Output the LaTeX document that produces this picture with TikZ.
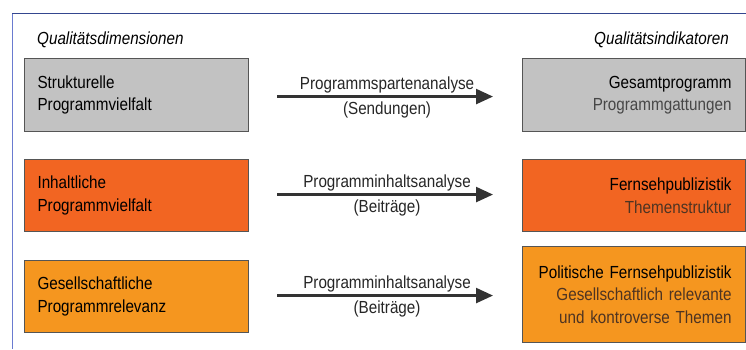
\documentclass[tikz,border=0pt]{standalone}
\usepackage{fontspec}
\setmainfont[FakeStretch=0.87]{Liberation Sans}
\usetikzlibrary{arrows.meta,positioning}
\definecolor{frametop}{HTML}{34468F}
\definecolor{frameleft}{HTML}{6A7BD0}
\definecolor{boxgrey}{HTML}{C2C2C2}
\definecolor{boxred}{HTML}{F26522}
\definecolor{boxorange}{HTML}{F5961F}
\definecolor{edge}{HTML}{555555}
\definecolor{arrowc}{HTML}{333333}
\definecolor{subgrey}{HTML}{474747}
\definecolor{subbrown}{HTML}{4E3422}
\tikzset{
  txt/.style={font=\fontsize{17.5}{22.5}\selectfont},
  leftbox/.style={txt, draw=edge, line width=1.1pt, anchor=north west,
    minimum width=224pt, text width=198pt, inner xsep=13pt, align=left},
  rightbox/.style={txt, draw=edge, line width=1.1pt, anchor=north west,
    minimum width=223pt, text width=195pt, inner xsep=14pt, align=right},
  flow/.style={draw=arrowc, line width=2.4pt,
    -{Triangle[length=17pt,width=15pt]}, shorten <=28pt, shorten >=29pt},
  lab/.style={txt, text=black!85, inner sep=0pt},
  head/.style={font=\fontsize{17.5}{22}\selectfont\itshape, inner sep=0pt}
}
\begin{document}
\begin{tikzpicture}[x=1pt,y=-1pt]
\useasboundingbox (0,0) rectangle (746,349);
\draw[frameleft, line width=1pt] (12,349) -- (12,13);
\draw[frametop, line width=1pt] (12,13) -- (746,13);

\node[head, anchor=base west] (hl) at (37,44) {Qualitätsdimensionen};
\node[head, anchor=base east] (hr) at (729,44) {Qualitätsindikatoren};

% row 1
\node[leftbox, fill=boxgrey, minimum height=73pt] (l1) at (24,58)
  {Strukturelle\\Programmvielfalt};
\node[rightbox, fill=boxgrey, minimum height=73pt] (r1) at (522,58)
  {Gesamtprogramm\\\textcolor{subgrey}{Programmgattungen}};
% row 2
\node[leftbox, fill=boxred, minimum height=72pt] (l2) at (24,159)
  {Inhaltliche\\Programmvielfalt};
\node[rightbox, fill=boxred, minimum height=72pt] (r2) at (522,159)
  {Fernsehpublizistik\\\textcolor{subbrown}{Themenstruktur}};
% row 3
\node[leftbox, fill=boxorange, minimum height=72pt] (l3) at (24,260)
  {Gesellschaftliche\\Programmrelevanz};
\node[rightbox, fill=boxorange, minimum height=96pt] (r3) at (522,246)
  {Politische Fernsehpublizistik\\\textcolor{subbrown}{Gesellschaftlich relevante}\\\textcolor{subbrown}{und kontroverse Themen}};

% arrows
\coordinate (a1) at ([yshift=-1.5pt]l1.east);
\coordinate (a2) at ([yshift=1pt]l2.east);
\coordinate (a3) at ([yshift=1pt]l3.east);
\draw[flow] (a1) -- (a1 -| r1.west)
  node[lab, midway, above=2.5pt, xshift=1.5pt] (t1a) {Programmspartenanalyse}
  node[lab, midway, below=4pt, xshift=1.5pt] (t1b) {(Sendungen)};
\draw[flow] (a2) -- (a2 -| r2.west)
  node[lab, midway, above=2.5pt, xshift=1.5pt] (t2a) {Programminhaltsanalyse}
  node[lab, midway, below=4pt, xshift=1.5pt] (t2b) {(Beiträge)};
\draw[flow] (a3) -- (a3 -| r3.west)
  node[lab, midway, above=2.5pt, xshift=1.5pt] (t3a) {Programminhaltsanalyse}
  node[lab, midway, below=4pt, xshift=1.5pt] (t3b) {(Beiträge)};
\end{tikzpicture}
\end{document}
